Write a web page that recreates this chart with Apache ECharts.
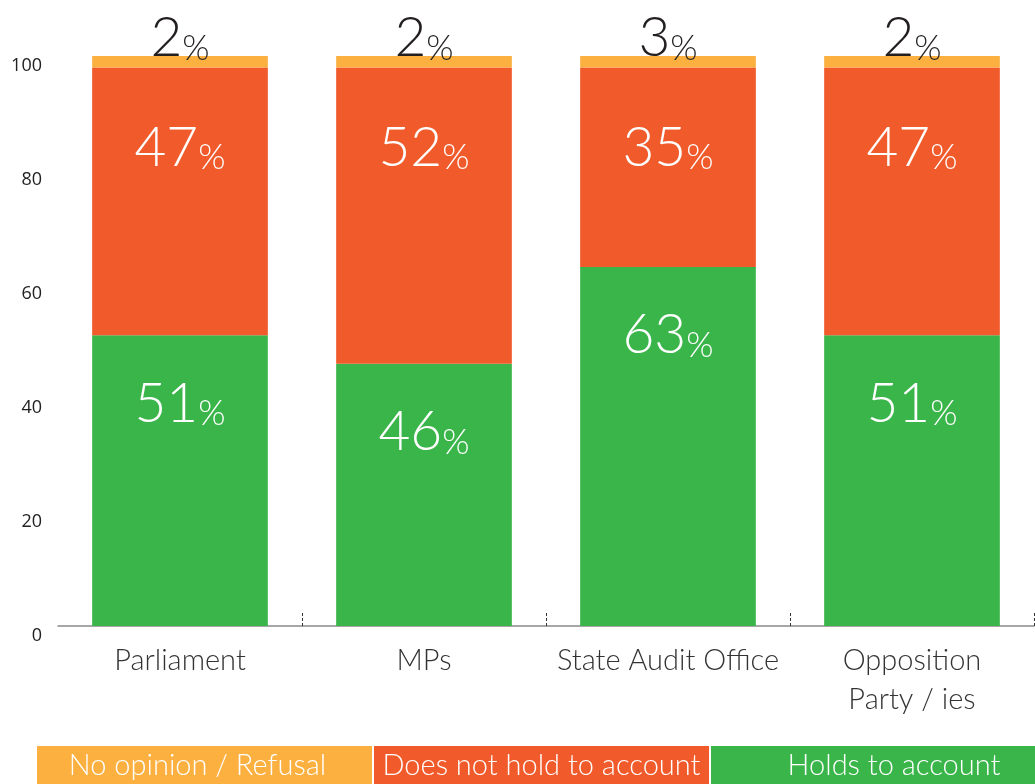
<!DOCTYPE html>
<html>
<head>
<meta charset="utf-8">
<script src="https://cdn.jsdelivr.net/npm/echarts@6/dist/echarts.min.js"></script>
<style>
  html, body { margin: 0; padding: 0; background: #fff; }
  #chart { width: 1035px; height: 784px; }
</style>
</head>
<body>
<div id="chart"></div>
<script>
// Who holds the government to account (% of respondents)
const categories = ['Parliament', 'MPs', 'State Audit Office', 'Opposition\nParty / ies'];
const seriesNames = ['Holds to account', 'Does not hold to account', 'No opinion / Refusal'];
const holds = [51, 46, 63, 51];
const doesNot = [47, 52, 35, 47];
const noOpinion = [2, 2, 3, 2];
const yTicks = [0, 20, 40, 60, 80, 100];

const colors = {
  'Holds to account': '#3ab54a',
  'Does not hold to account': '#f15a2b',
  'No opinion / Refusal': '#fbb040'
};
const FONT = 'Lato, "Open Sans", "Noto Sans", sans-serif';

const bigRich = (color) => ({
  n: { fontFamily: FONT, fontWeight: 300, fontSize: 55, color: color, lineHeight: 56, verticalAlign: 'bottom' },
  p: { fontFamily: FONT, fontWeight: 300, fontSize: 35, color: color, lineHeight: 40, verticalAlign: 'bottom' }
});
const pctFormatter = (p) => '{n|' + p.value + '}{p|%}';

const chart = echarts.init(document.getElementById('chart'), null, { renderer: 'canvas' });

const option = {
  animation: false,
  backgroundColor: '#fff',
  grid: { left: 58, right: 1, top: 56, bottom: 158, containLabel: false },
  xAxis: {
    type: 'category',
    data: categories,
    boundaryGap: true,
    axisLine: { show: true, lineStyle: { color: '#8a8a8a', width: 1.5 } },
    axisTick: {
      show: true, inside: true, length: 13,
      interval: (i) => i > 0,
      lineStyle: { color: '#333', type: [3, 2], width: 1 }
    },
    axisLabel: {
      fontFamily: FONT, fontWeight: 300, fontSize: 29, color: '#333',
      lineHeight: 39, margin: 15, interval: 0
    }
  },
  yAxis: {
    type: 'value',
    min: yTicks[0],
    max: yTicks[yTicks.length - 1],
    interval: yTicks[1] - yTicks[0],
    splitLine: { show: false },
    axisLine: { show: false },
    axisTick: { show: false },
    axisLabel: {
      fontFamily: '"Open Sans", "Noto Sans", sans-serif', fontSize: 18, color: '#222',
      margin: 16, verticalAlign: 'top', padding: [0, 0, 0, 0], lineHeight: 20
    }
  },
  series: [
    {
      name: seriesNames[0], type: 'bar', stack: 'total', data: holds, barWidth: '72%',
      itemStyle: { color: colors[seriesNames[0]] },
      label: { show: true, position: 'insideTop', distance: 40, formatter: pctFormatter, rich: bigRich('#fff') }
    },
    {
      name: seriesNames[1], type: 'bar', stack: 'total', data: doesNot, barWidth: '72%',
      itemStyle: { color: colors[seriesNames[1]] },
      label: { show: true, position: 'insideTop', distance: 52, formatter: pctFormatter, rich: bigRich('#fff') }
    },
    {
      name: seriesNames[2], type: 'bar', stack: 'total', data: noOpinion, barWidth: '72%',
      itemStyle: { color: colors[seriesNames[2]] },
      label: { show: true, position: 'top', distance: -10, formatter: pctFormatter, rich: bigRich('#231f20') }
    }
  ],
  graphic: []
};

// Colour key along the bottom edge: one filled box per series, name inside
const keyBoxes = [
  { name: seriesNames[2], x: 37, w: 335, shift: -7 },
  { name: seriesNames[1], x: 374, w: 335, shift: 0 },
  { name: seriesNames[0], x: 711, w: 324, shift: 21 }
];
keyBoxes.forEach((k) => {
  option.graphic.push({
    type: 'rect',
    left: k.x, top: 746,
    shape: { width: k.w, height: 38 },
    style: { fill: colors[k.name] },
    textContent: {
      style: { text: k.name, fill: '#fff', fontFamily: FONT, fontWeight: 300, fontSize: 29 }
    },
    textConfig: { position: 'inside', offset: [k.shift, 1] }
  });
});

chart.setOption(option);
</script>
</body>
</html>
